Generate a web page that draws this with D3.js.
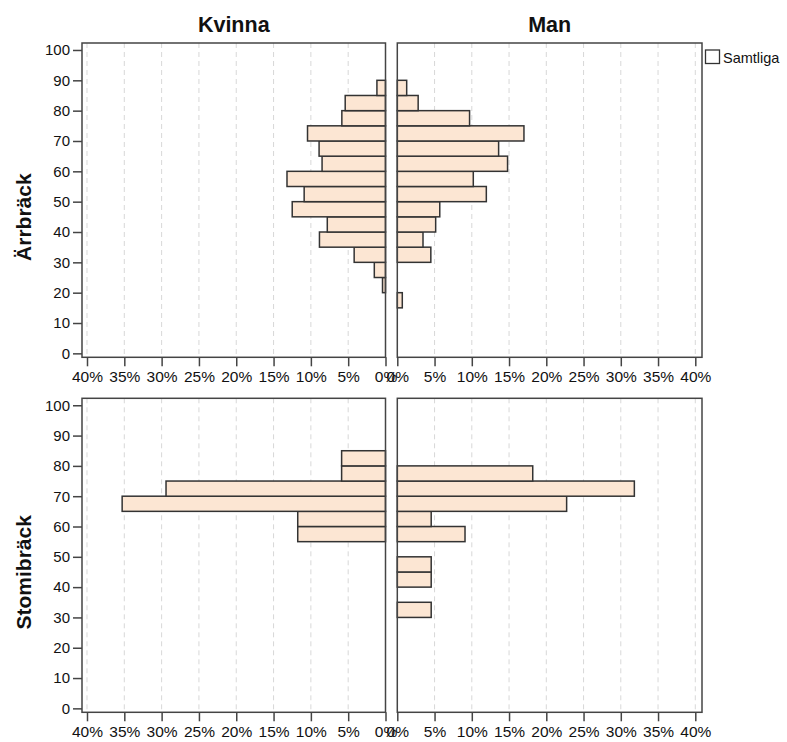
<!DOCTYPE html>
<html><head><meta charset="utf-8">
<script src="https://cdn.jsdelivr.net/npm/d3@7"></script>
<style>body{margin:0;background:#fff}svg{display:block}</style>
</head><body>
<svg id="c" width="787" height="742"></svg>
<script>
// Age bins (lower bound of each 5-year bin)
const binStarts = [15,20,25,30,35,40,45,50,55,60,65,70,75,80,85];
// Percent per bin (aligned with binStarts)
const kvinnaArrbrack = [0,0.4,1.5,4.2,8.85,7.8,12.5,10.9,13.2,8.5,8.9,10.45,5.85,5.4,1.15];
const manArrbrack    = [0.67,0,0,4.5,3.45,5.15,5.7,11.95,10.2,14.8,13.6,17.0,9.7,2.8,1.26];
const kvinnaStomi    = [0,0,0,0,0,0,0,0,11.76,11.76,35.29,29.41,5.88,5.88,0];
const manStomi       = [0,0,0,4.55,0,4.55,4.55,0,9.09,4.55,22.73,31.82,18.18,0,0];
const colTitles = ["Kvinna","Man"];
const rowTitles = ["Ärrbräck","Stomibräck"];
const xTicks = [0,5,10,15,20,25,30,35,40];
const yTicks = [0,10,20,30,40,50,60,70,80,90,100];
const legendLabel = "Samtliga";

const svg = d3.select("#c");
const font = "Arial, 'Liberation Sans', sans-serif";
const fill = "#fce6d3", edge = "#333", frameC = "#444";

const cols = [
  {x0:82, x1:385.5, dir:-1, dmax:40.67},
  {x0:397.3, x1:702, dir:1, dmax:40.9}
];
const rows = [{y0:43, y1:357.3},{y0:398.3, y1:712.3}];
const data = [[kvinnaArrbrack, manArrbrack],[kvinnaStomi, manStomi]];

rows.forEach((r, ri) => {
  const y = d3.scaleLinear().domain([-1.3,102.3]).range([r.y1, r.y0]);
  cols.forEach((c, ci) => {
    const x = d3.scaleLinear().domain([0, c.dmax])
      .range(c.dir < 0 ? [c.x1, c.x0] : [c.x0, c.x1]);
    const g = svg.append("g");
    g.append("rect").attr("x", c.x0).attr("y", r.y0)
      .attr("width", c.x1 - c.x0).attr("height", r.y1 - r.y0).attr("fill", "#fff");
    g.selectAll("line.grid").data(xTicks.filter(t => t > 0)).join("line")
      .attr("x1", d => x(d)).attr("x2", d => x(d))
      .attr("y1", r.y0).attr("y2", r.y1)
      .attr("stroke", "#d8d8d8").attr("stroke-dasharray", "5,4").attr("stroke-width", 1);
    const vals = data[ri][ci];
    const bars = binStarts.map((b, i) => ({b, v: vals[i]})).filter(d => d.v > 0);
    g.selectAll("rect.bar").data(bars).join("rect")
      .attr("x", d => Math.min(x(0), x(d.v)))
      .attr("width", d => Math.abs(x(d.v) - x(0)))
      .attr("y", d => y(d.b + 5))
      .attr("height", d => y(d.b) - y(d.b + 5))
      .attr("fill", fill).attr("stroke", edge).attr("stroke-width", 1.5);
    g.append("rect").attr("x", c.x0).attr("y", r.y0)
      .attr("width", c.x1 - c.x0).attr("height", r.y1 - r.y0)
      .attr("fill", "none").attr("stroke", frameC).attr("stroke-width", 1.5);
    const xa = g.append("g").attr("transform", `translate(0,${r.y1})`)
      .call(d3.axisBottom(x).tickValues(xTicks).tickFormat(d => d + "%").tickSize(9).tickPadding(5));
    xa.select(".domain").remove();
    xa.selectAll("line").attr("stroke", frameC).attr("stroke-width", 1.5);
    xa.selectAll("text").attr("font-family", font).attr("font-size", 15.5).attr("fill", "#111");
    if (ci === 0) {
      const ya = g.append("g").attr("transform", `translate(${c.x0},0)`)
        .call(d3.axisLeft(y).tickValues(yTicks).tickSize(9).tickPadding(3));
      ya.select(".domain").remove();
      ya.selectAll("line").attr("stroke", frameC).attr("stroke-width", 1.5);
      ya.selectAll("text").attr("font-family", font).attr("font-size", 15).attr("fill", "#111");
    }
  });
  const cy = (r.y0 + r.y1) / 2 + 17;
  svg.append("text").attr("transform", `translate(31,${cy}) rotate(-90)`)
    .attr("text-anchor", "middle").attr("font-family", font).attr("font-weight", "bold")
    .attr("font-size", 21).attr("fill", "#111").text(rowTitles[ri]);
});

cols.forEach((c, ci) => {
  svg.append("text").attr("x", (c.x0 + c.x1) / 2).attr("y", 32)
    .attr("text-anchor", "middle").attr("font-family", font).attr("font-weight", "bold")
    .attr("font-size", 21.5).attr("fill", "#111").text(colTitles[ci]);
});

svg.append("rect").attr("x", 705.5).attr("y", 50).attr("width", 14).attr("height", 13.5)
  .attr("fill", "#fff").attr("stroke", "#333").attr("stroke-width", 1.3);
svg.append("text").attr("x", 723).attr("y", 62.5).attr("font-family", font)
  .attr("font-size", 14.5).attr("fill", "#111").text(legendLabel);
</script>
</body></html>
